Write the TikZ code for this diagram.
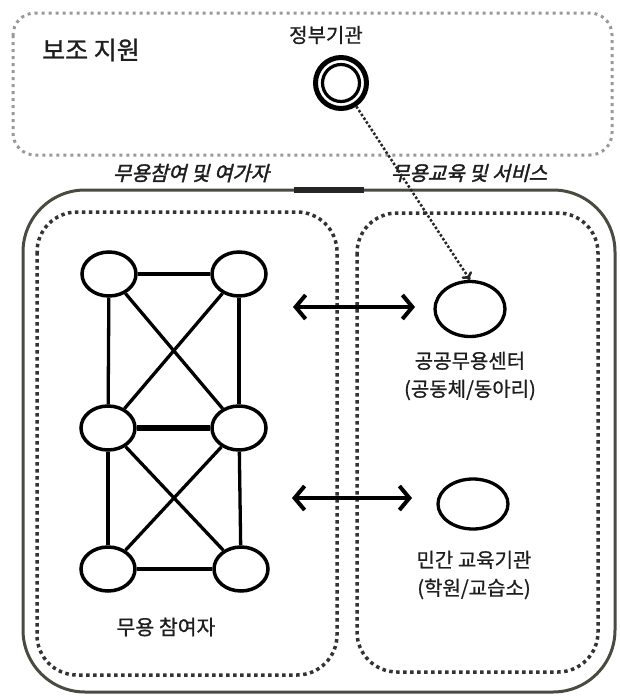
\documentclass[tikz,border=0pt]{standalone}
\usepackage{fontspec}
\setmainfont{Noto Sans CJK KR}
\newfontfamily\cjkslant[FakeSlant=0.25,FakeBold=1.8]{Noto Sans CJK KR}
\newfontfamily\cjkmid[FakeBold=0.8]{Noto Sans CJK KR}
\newfontfamily\cjktitle[FakeBold=1.2]{Noto Sans CJK KR}
\usetikzlibrary{arrows.meta,shapes.geometric}
\definecolor{framecol}{HTML}{4A4A40}
\definecolor{txt}{HTML}{1E1E1E}
\begin{document}
\begin{tikzpicture}[x=1pt,y=-1pt,
  dotbox/.style={line width=3.5pt, dash pattern=on 3.5pt off 3.5pt, draw=black!80, rounded corners=40pt},
  topbox/.style={line width=3pt, dash pattern=on 3pt off 4pt, draw=black!40, rounded corners=22pt},
  frame/.style={line width=3pt, draw=framecol, rounded corners=62pt},
  pnode/.style={ellipse, draw, line width=3.5pt, minimum width=54pt, minimum height=44pt, inner sep=0pt},
  rnode/.style={ellipse, draw, line width=3.3pt, inner sep=0pt},
  link/.style={line width=3.3pt},
  biarrow/.style={line width=4pt, {Straight Barb[length=10pt,width=24pt]}-{Straight Barb[length=10pt,width=24pt]}},
  lbl/.style={font=\cjkmid\fontsize{20}{28}\selectfont, text=txt, inner sep=0pt, align=center},
  slbl/.style={font=\cjkslant\fontsize{20}{24}\selectfont, text=txt, inner sep=0pt}
]
\useasboundingbox (0,0) rectangle (620,696);

% top support box
\draw[topbox] (13,13) rectangle (612,155);
% outer frame
\draw[frame] (23,190) rectangle (615,692);
\draw[line width=6pt, black!85] (294,190) -- (364,190);
% inner dotted boxes
\draw[dotbox] (37,212) rectangle (337,675);
\draw[dotbox] (357,213) rectangle (598,672);

% labels
\node[font=\cjktitle\fontsize{25}{30}\selectfont, text=txt, inner sep=0pt] (title) at (91,50) {보조 지원};
\node[lbl] (govlbl) at (326,35) {정부기관};
\node[slbl] (lab1) at (191,173) {무용참여 및 여가자};
\node[slbl] (lab2) at (469,173) {무용교육 및 서비스};

% government node
\node[circle, draw, line width=5pt, minimum size=51pt, inner sep=0pt] (gov) at (341,83) {};
\node[circle, draw, line width=3.2pt, minimum size=37pt, inner sep=0pt] (govin) at (341,83) {};

% participants graph
\node[pnode] (p1) at (109,274) {};
\node[pnode] (p2) at (239,274) {};
\node[pnode] (p3) at (108,428) {};
\node[pnode] (p4) at (239,428) {};
\node[pnode] (p5) at (108,569) {};
\node[pnode] (p6) at (241,569) {};
\draw[link] (p1) -- (p2);
\draw[link] (p1) -- (p3);
\draw[link, line width=4.3pt] (p2) -- (p4);
\draw[link] (p1) -- (p4);
\draw[link] (p2) -- (p3);
\draw[link, line width=6pt] (p3) -- (p4);
\draw[link] (p3) -- (p5);
\draw[link] (p4) -- (p6);
\draw[link] (p3) -- (p6);
\draw[link] (p4) -- (p5);
\draw[link] (p5) -- (p6);
\node[lbl, font=\cjkmid\fontsize{20.5}{24}\selectfont] (plbl) at (166,627) {무용 참여자};

% education / service nodes
\node[rnode, minimum width=70pt, minimum height=55pt] (pc) at (470,309) {};
\node[rnode, minimum width=70pt, minimum height=50pt] (pe) at (473,504) {};
\node[lbl] (pclbl) at (470,376) {공공무용센터\\(공동체/동아리)};
\node[lbl] (pelbl) at (474,575) {민간 교육기관\\(학원/교습소)};

% arrows
\coordinate (a1l) at (293,307);
\coordinate (a1r) at (415,307);
\coordinate (a2l) at (292,498);
\coordinate (a2r) at (412,498);
\draw[biarrow] (a1l) -- (a1r);
\draw[biarrow] (a2l) -- (a2r);

% dotted support arrow
\draw[line width=2.5pt, dash pattern=on 2.5pt off 2pt, black!85, -{To[length=7pt,width=12pt]}] (gov) -- (pc.north);
\end{tikzpicture}
\end{document}
